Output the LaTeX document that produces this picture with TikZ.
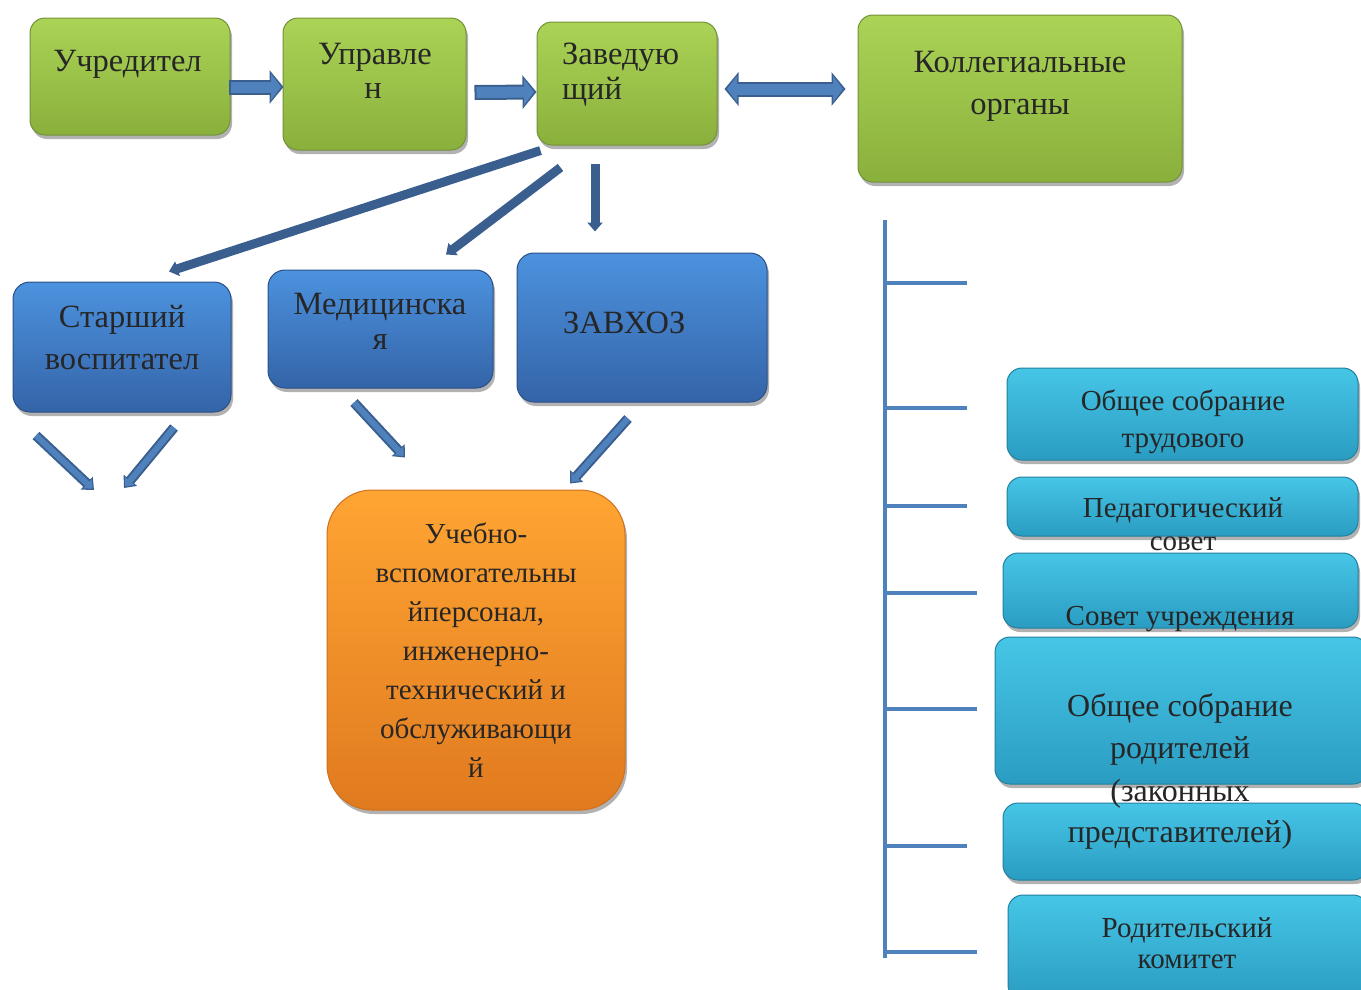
\documentclass[tikz,border=0pt]{standalone}
\usepackage{fontspec}
\setmainfont{Liberation Serif}
\usetikzlibrary{arrows.meta,shadows,calc}
\definecolor{txt}{HTML}{262626}
\definecolor{gtop}{HTML}{ABD356}
\definecolor{gbot}{HTML}{8AB03C}
\definecolor{gline}{HTML}{71923A}
\definecolor{btop}{HTML}{4C92DE}
\definecolor{bbot}{HTML}{3464A8}
\definecolor{bline}{HTML}{2C4F85}
\definecolor{ctop}{HTML}{46C6E6}
\definecolor{cbot}{HTML}{2A9CC2}
\definecolor{cline}{HTML}{23809F}
\definecolor{otop}{HTML}{FFA533}
\definecolor{obot}{HTML}{E07A1F}
\definecolor{oline}{HTML}{D0701C}
\definecolor{adark}{HTML}{3A5F8E}
\definecolor{alight}{HTML}{4F81BD}
\begin{document}
\begin{tikzpicture}[x=1pt,y=-1pt,
  boxbase/.style={inner sep=0pt, line width=1pt,
    drop shadow={shadow xshift=2pt,shadow yshift=-4pt,opacity=0.3,fill=black}},
  gbox/.style={boxbase, rounded corners=15pt, draw=gline, top color=gtop, bottom color=gbot},
  bbox/.style={boxbase, rounded corners=17pt, draw=bline, top color=btop, bottom color=bbot},
  cbox/.style={boxbase, rounded corners=15pt, draw=cline, top color=ctop, bottom color=cbot},
  obox/.style={boxbase, rounded corners=45pt, draw=oline, top color=otop, bottom color=obot},
  lbl/.style={inner sep=0pt, anchor=base, text=txt},
  fat/.style={line width=15pt, color=adark, -{Triangle[length=14pt,width=33pt]}},
  fatin/.style={line width=11pt, color=alight, shorten >=2.5pt, -{Triangle[length=10pt,width=26pt]}},
  fatb/.style={line width=15pt, color=adark, {Triangle[length=14pt,width=33pt]}-{Triangle[length=14pt,width=33pt]}},
  fatbin/.style={line width=11pt, color=alight, shorten >=2.5pt, shorten <=2.5pt, {Triangle[length=10pt,width=26pt]}-{Triangle[length=10pt,width=26pt]}},
  dline/.style={line width=9pt, color=adark, -{Triangle[length=9pt,width=15pt]}},
  thin/.style={line width=10pt, color=adark, -{Triangle[length=10pt,width=17pt]}},
  thinin/.style={line width=6pt, color=alight, shorten >=2pt, -{Triangle[length=7pt,width=12pt]}},
  tick/.style={line width=4pt, color=alight}
]
\useasboundingbox (0,0) rectangle (1361,989);

% ---- boxes ----
\node[gbox, minimum width=200pt, minimum height=117pt] (u)  at (130,76.5) {};
\node[gbox, minimum width=183pt, minimum height=132pt] (up) at (374.5,84) {};
\node[gbox, minimum width=180pt, minimum height=123pt] (z)  at (627,83.5) {};
\node[gbox, minimum width=324pt, minimum height=167pt] (k)  at (1020,98.5) {};

\node[bbox, minimum width=218pt, minimum height=130pt] (s)  at (122,347) {};
\node[bbox, minimum width=225pt, minimum height=118pt] (m)  at (380.5,329) {};
\node[bbox, minimum width=250pt, minimum height=149pt] (zx) at (642,327.5) {};

\node[obox, minimum width=298pt, minimum height=320pt] (o)  at (476,650) {};

\node[cbox, minimum width=351pt, minimum height=92pt]  (r1) at (1182.5,414) {};
\node[cbox, minimum width=351pt, minimum height=59pt]  (r2) at (1182.5,506.5) {};
\node[cbox, minimum width=355pt, minimum height=75pt]  (r3) at (1180.5,590.5) {};
\node[cbox, minimum width=373pt, minimum height=147pt] (r4) at (1181.5,710.5) {};
\node[cbox, minimum width=365pt, minimum height=77pt]  (r5) at (1185.5,841.5) {};
\node[cbox, minimum width=360pt, minimum height=105pt] (r6) at (1188,947.5) {};

% ---- texts ----
\begin{scope}[font=\fontsize{32.5}{38}\selectfont]
\node[lbl] (tu) at (127.5,71) {Учредител};
\node[lbl] (tup1) at (375,64) {Управле};
\node[lbl] (tup2) at (373,98) {н};
\node[lbl, anchor=base west] (tz1) at (562,64) {Заведую};
\node[lbl, anchor=base west] (tz2) at (562,99) {щий};
\node[lbl] (tk1) at (1020,72) {Коллегиальные};
\node[lbl] (tk2) at (1020,114) {органы};
\node[lbl] (ts1) at (122,327) {Старший};
\node[lbl] (ts2) at (122,369) {воспитател};
\node[lbl] (tm1) at (380,314) {Медицинска};
\node[lbl] (tm2) at (380,349) {я};
\node[lbl, anchor=base west] (tzx) at (563,333) {ЗАВХОЗ};
\end{scope}

\begin{scope}[font=\fontsize{29}{33}\selectfont]
\node[lbl] (to1) at (476,543) {Учебно-};
\node[lbl] (to2) at (476,582) {вспомогательны};
\node[lbl] (to3) at (476,621) {йперсонал,};
\node[lbl] (to4) at (476,660) {инженерно-};
\node[lbl] (to5) at (476,699) {технический и};
\node[lbl] (to6) at (476,738) {обслуживающи};
\node[lbl] (to7) at (476,777) {й};
\node[lbl] (tr11) at (1183,410) {Общее собрание};
\node[lbl] (tr12) at (1183,447) {трудового};
\node[lbl] (tr21) at (1183,517) {Педагогический};
\node[lbl] (tr22) at (1183,550) {совет};
\node[lbl] (tr3) at (1180,625) {Совет учреждения};
\node[lbl] (tr61) at (1187,937) {Родительский};
\node[lbl] (tr62) at (1187,968) {комитет};
\end{scope}
\begin{scope}[font=\fontsize{32}{36}\selectfont]
\node[lbl] (tr41) at (1180,716) {Общее собрание};
\node[lbl] (tr42) at (1180,758) {родителей};
\node[lbl] (tr43) at (1180,801) {(законных};
\node[lbl] (tr44) at (1180,842) {представителей)};
\end{scope}

% ---- top row block arrows ----
\draw[fat]   ([shift={(-2,10.5)}]u.east) -- ([shift={(1,3)}]up.west);
\draw[fatin] ([shift={(0,10.5)}]u.east)  -- ([shift={(1,3)}]up.west);
\draw[fat]   ([shift={(8,8.5)}]up.east) -- ([shift={(0,8.5)}]z.west);
\draw[fatin] ([shift={(10,8.5)}]up.east) -- ([shift={(0,8.5)}]z.west);
\draw[fatb]   ([shift={(7,5.5)}]z.east) -- ([shift={(-12,-9.5)}]k.west);
\draw[fatbin] ([shift={(7,5.5)}]z.east) -- ([shift={(-12,-9.5)}]k.west);

% ---- from Заведующий ----
\draw[dline] ([shift={(4,5)}]z.south west) -- ([shift={(47,-10)}]s.north);
\draw[dline] ([shift={(24,22)}]z.south west) -- ([shift={(65.5,-15)}]m.north);
\draw[dline] ([shift={(-32,18)}]z.south) -- ([shift={(-47,-21)}]zx.north);

% ---- lower arrows ----
\coordinate (sl) at (94,490);
\coordinate (sr) at (124,488);
\draw[thin]   ([shift={(-86,23)}]s.south) -- (sl);
\draw[thinin] ([shift={(-86,23)}]s.south) -- (sl);
\draw[thin]   ([shift={(52,15)}]s.south) -- (sr);
\draw[thinin] ([shift={(52,15)}]s.south) -- (sr);
\draw[thin]   ([shift={(-26.5,14)}]m.south) -- ([shift={(-71,-32)}]o.north);
\draw[thinin] ([shift={(-26.5,14)}]m.south) -- ([shift={(-71,-32)}]o.north);
\draw[thin]   ([shift={(-14,16)}]zx.south) -- ([shift={(94,-6)}]o.north);
\draw[thinin] ([shift={(-14,16)}]zx.south) -- ([shift={(94,-6)}]o.north);

% ---- right bracket ----
\coordinate (vtop) at (885,220);
\coordinate (vbot) at (885,958);
\draw[tick] (vtop) -- (vbot);
\foreach \y/\e [count=\i] in {283/967,408/967,506/967,593/977,709/977,846/967,952/977}{
  \coordinate (ta\i) at (885,\y);
  \coordinate (tb\i) at (\e,\y);
  \draw[tick] (ta\i) -- (tb\i);
}
\end{tikzpicture}
\end{document}
